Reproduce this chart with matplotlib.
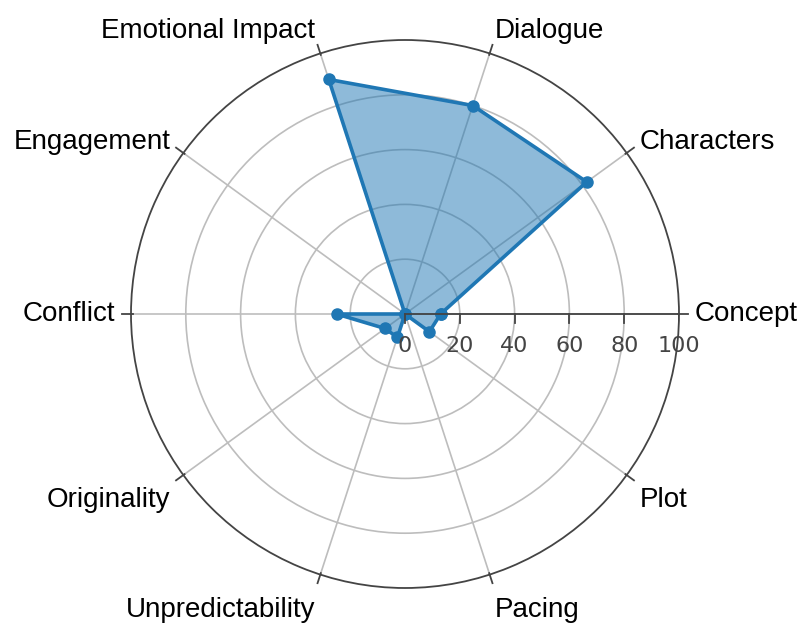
import numpy as np
import matplotlib.pyplot as plt

# categories and scores
categories = ["Concept", "Characters", "Dialogue", "Emotional Impact", "Engagement",
              "Conflict", "Originality", "Unpredictability", "Pacing", "Plot"]
scores = [13, 82, 80, 90, 0, 25, 9, 9, 0, 11]
r_ticks = [0, 20, 40, 60, 80, 100]

LINE = "#1f77b4"
DARK = "#444444"
GRID = "#bdbdbd"
plt.rcParams["font.family"] = ["Liberation Sans", "DejaVu Sans"]

fig = plt.figure(figsize=(8.06, 6.27), dpi=100)
W, H = 806, 627
cx, cy, R = 405, 314, 274  # centre and outer radius in pixels
rect = [(cx - R) / W, (H - cy - R) / H, 2 * R / W, 2 * R / H]

ax = fig.add_axes(rect, projection="polar")
n = len(categories)
theta = np.deg2rad(np.arange(n) * 360 / n)
th_closed = np.append(theta, theta[0])
sc_closed = np.append(scores, scores[0])

ax.fill(th_closed, sc_closed, color=LINE, alpha=0.5, lw=0, zorder=2)
ax.plot(th_closed, sc_closed, color=LINE, lw=2.6, marker="o", ms=8, zorder=3)

ax.set_ylim(0, 100)
ax.set_yticks(r_ticks[1:-1])
ax.set_yticklabels([])
ax.set_xticks(theta)
ax.set_xticklabels([])
ax.tick_params(axis="x", length=0)
ax.grid(True, color=GRID, lw=1.2)
ax.set_axisbelow(True)
ax.spines["polar"].set_color(DARK)
ax.spines["polar"].set_linewidth(1.3)

# category labels, placed plotly-style around the outer ring
for t, lab in zip(theta, categories):
    c, s = np.cos(t), np.sin(t)
    ha = "left" if c > 0.2 else ("right" if c < -0.2 else "center")
    if s > 0:
        dy = 16 * s + 8 * s ** 3
    else:
        a = -s
        dy = -(16 * a + 29.8 * a - 9.4 * a ** 3)
    dx = 16 * c
    ax.annotate(lab, xy=(t, 100), xytext=(dx * 0.72, dy * 0.72), textcoords="offset points",
                ha=ha, va="center", fontsize=20, color="black", annotation_clip=False)

# radial axis and angular ticks drawn on a cartesian overlay
px = 100 / R  # data units per pixel
ax2 = fig.add_axes(rect, frameon=False)
ax2.set_xlim(-100, 100)
ax2.set_ylim(-100, 100)
ax2.axis("off")
ax2.plot([0, 100], [0, 0], color=DARK, lw=1.3, zorder=4)
for r in r_ticks:
    ax2.plot([r, r], [0, -9 * px], color=DARK, lw=1.3, zorder=4)
    ax2.text(r, -8.2, str(r), ha="center", va="top", fontsize=16, color=DARK,
             family="DejaVu Sans")
for t in theta:
    r0, r1 = 100 - 1.5 * px, 100 + 9 * px
    ax2.plot([r0 * np.cos(t), r1 * np.cos(t)], [r0 * np.sin(t), r1 * np.sin(t)],
             color=DARK, lw=1.3, zorder=4, clip_on=False)

fig.savefig("out.png", dpi=100)
